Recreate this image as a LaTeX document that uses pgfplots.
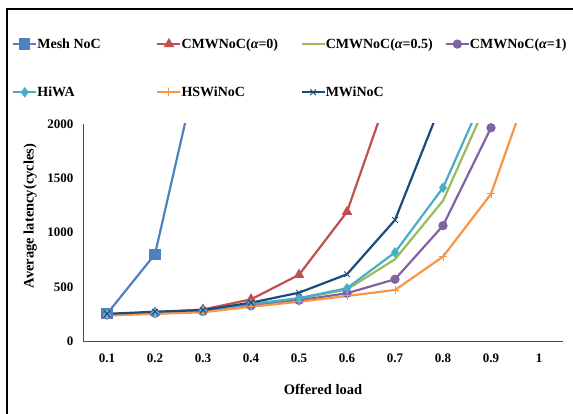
\documentclass[border=0pt]{standalone}
\usepackage{pgfplots}
\pgfplotsset{compat=1.18}
\usepackage{fontspec}
\setmainfont{Liberation Serif}
\definecolor{cmesh}{HTML}{4F81BD}
\definecolor{cred}{HTML}{C0504D}
\definecolor{cgreen}{HTML}{9BBB59}
\definecolor{cpurple}{HTML}{8064A2}
\definecolor{ccyan}{HTML}{4BACC6}
\definecolor{corange}{HTML}{F79646}
\definecolor{cdark}{HTML}{1F497D}
\newcommand{\lgbox}[1]{\makebox[116pt][l]{#1}}
\begin{document}
\begin{tikzpicture}[x=1pt,y=1pt]
\begin{axis}[
  at={(83pt,73pt)}, anchor=south west,
  scale only axis, width=480pt, height=217pt,
  xmin=0.05, xmax=1.05, ymin=0, ymax=2000,
  axis x line*=bottom, axis y line*=left,
  axis line style={draw=black!70, line width=0.8pt},
  major tick length=0pt,
  xtick={0.1,0.2,0.3,0.4,0.5,0.6,0.7,0.8,0.9,1},
  xticklabels={0.1,0.2,0.3,0.4,0.5,0.6,0.7,0.8,0.9,1},
  ytick={0,500,1000,1500,2000},
  /pgf/number format/assume math mode=true,
  /pgf/number format/1000 sep={},
  yticklabel style={xshift=-6pt},
  xticklabel style={yshift=-9pt},
  tick label style={font=\bfseries\fontsize{13}{15}\selectfont},
  xlabel={Offered load},
  ylabel={Average latency(cycles)},
  every axis x label/.style={at={(axis description cs:0.5,-0.225)}, anchor=center, font=\bfseries\fontsize{14.5}{16}\selectfont},
  every axis y label/.style={at={(axis description cs:-0.11,0.576)}, anchor=center, rotate=90, font=\bfseries\fontsize{14.5}{16}\selectfont},
  legend columns=4,
  legend style={draw=none, fill=none, inner sep=0pt,
    at={(axis description cs:-0.148,1.395)}, anchor=north west,
    font=\bfseries\fontsize{14}{16}\selectfont,
    row sep=37pt,
    nodes={inner sep=0pt},
    /tikz/every even column/.append style={column sep=3pt}},
  legend image code/.code={\draw[mark repeat=2,mark phase=2] plot coordinates {(0pt,0pt)(11.5pt,0pt)(23pt,0pt)};},
  every axis plot/.append style={line width=2.2pt},
]
\addplot[color=cmesh, mark=square*, mark size=4.5pt, mark options={solid}] coordinates {(0.1,250) (0.2,800) (0.3,2730)};
\addlegendentry{\lgbox{Mesh NoC}}
\addplot[color=cred, mark=triangle*, mark size=4pt] coordinates {(0.1,245) (0.2,262) (0.3,290) (0.4,384) (0.5,610) (0.6,1190) (0.7,2460)};
\addlegendentry{\lgbox{CMWNoC({\itshape α}=0)}}
\addplot[color=cgreen, mark=none] coordinates {(0.1,240) (0.2,258) (0.3,275) (0.4,335) (0.5,390) (0.6,475) (0.7,753) (0.8,1293) (0.9,2284)};
\addlegendentry{\lgbox{CMWNoC({\itshape α}=0.5)}}
\addplot[color=cpurple, mark=*, mark size=3.5pt] coordinates {(0.1,240) (0.2,255) (0.3,272) (0.4,325) (0.5,375) (0.6,440) (0.7,569) (0.8,1063) (0.9,1965)};
\addlegendentry{\lgbox{CMWNoC({\itshape α}=1)}}
\addplot[color=ccyan, mark=diamond*, mark size=3.5pt] coordinates {(0.1,245) (0.2,260) (0.3,278) (0.4,340) (0.5,395) (0.6,486) (0.7,817) (0.8,1413) (0.9,2408)};
\addlegendentry{\lgbox{HiWA}}
\addplot[color=corange, mark=+, mark size=4pt, mark options={line width=1pt}] coordinates {(0.1,235) (0.2,250) (0.3,265) (0.4,316) (0.5,362) (0.6,415) (0.7,470) (0.8,777) (0.9,1355) (1.0,2608)};
\addlegendentry{\lgbox{HSWiNoC}}
\addplot[color=cdark, mark=x, mark size=4pt, mark options={line width=1pt}] coordinates {(0.1,250) (0.2,270) (0.3,285) (0.4,353) (0.5,445) (0.6,615) (0.7,1115) (0.8,2230)};
\addlegendentry{\lgbox{MWiNoC}}
\end{axis}
\pgfresetboundingbox
\useasboundingbox (0,0) rectangle (573,414);
\draw[black, line width=1.2pt] (7,-10) -- (7,405) -- (590,405);
\end{tikzpicture}
\end{document}
